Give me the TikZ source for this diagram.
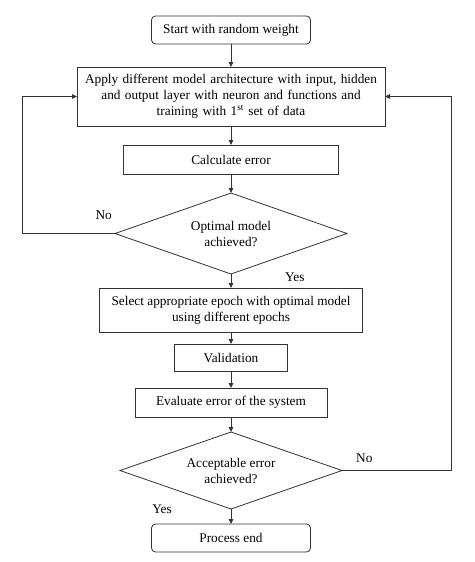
\documentclass[tikz,border=0pt]{standalone}
\usepackage{fontspec}
\setmainfont{Liberation Serif}
\usetikzlibrary{positioning,shapes.geometric,arrows.meta}

\begin{document}
\begin{tikzpicture}[x=1pt, y=1pt, auto,
        box/.style={draw=black!80, line width=0.8pt, outer sep=0pt, rectangle, align=center, inner sep=2pt, font=\fontsize{13.3}{16}\selectfont},
        term/.style={box, rounded corners=4pt},
        dec/.style={draw=black!80, line width=0.8pt, outer sep=0pt, diamond, shape aspect=2.86, align=center, inner sep=0pt, font=\fontsize{13.3}{16}\selectfont},
        lbl/.style={inner sep=0pt, font=\fontsize{13.3}{15}\selectfont},
        arr/.style={-{Triangle[length=5pt,width=4.5pt]}, color=black!80, line width=0.8pt}]
        \useasboundingbox (0,0) rectangle (474,-562);

        % Nodes
        \node[term, minimum width=159pt, minimum height=28pt] (Start) at (231,-30) {Start with random weight};
        \node[box, text width=302pt, minimum width=308pt, minimum height=59pt, below=23pt of Start] (Train) {Apply different model architecture with input, hidden\\and output layer with neuron and functions and\\training with 1\textsuperscript{st} set of data};
        \node[box, minimum width=215pt, minimum height=29pt, below=19pt of Train] (Calc) {Calculate error};
        \node[dec, minimum width=232pt, minimum height=81pt, below=19pt of Calc] (Opt) {Optimal model\\achieved?};
        \node[box, minimum width=263pt, minimum height=44pt, below=14pt of Opt] (Epoch) {Select appropriate epoch with optimal model\\using different epochs};
        \node[box, minimum width=113pt, minimum height=27pt, below=12pt of Epoch] (Valid) {Validation};
        \node[box, minimum width=192pt, minimum height=29pt, below=17pt of Valid] (Eval) {Evaluate error of the system};
        \node[dec, minimum width=222pt, minimum height=77pt, below=15pt of Eval] (Acc) {Acceptable error\\achieved?};
        \node[term, minimum width=159pt, minimum height=28pt, below=15pt of Acc] (End) {Process end};

        % Labels
        \node[lbl, above left=14pt and 3pt of Opt.west] (OptNo) {No};
        \node[lbl, below right=-1pt and 54pt of Opt.south] (OptYes) {Yes};
        \node[lbl, above right=8pt and 14pt of Acc.east] (AccNo) {No};
        \node[lbl, left=59pt of Acc.south] (AccYes) {Yes};

        % Arrows
        \draw[arr] (Start) -- (Train);
        \draw[arr] (Train) -- (Calc);
        \draw[arr] (Calc) -- (Opt);
        \draw[arr] (Opt) -- (Epoch);
        \draw[arr] (Epoch) -- (Valid);
        \draw[arr] (Valid) -- (Eval);
        \draw[arr] (Eval) -- (Acc);
        \draw[arr] (Acc) -- (End);
        \draw[arr] (Opt.west) -- ++(-93,0) |- (Train.west);
        \draw[arr] (Acc.east) -- ++(109,0) |- (Train.east);
    \end{tikzpicture}
\end{document}
